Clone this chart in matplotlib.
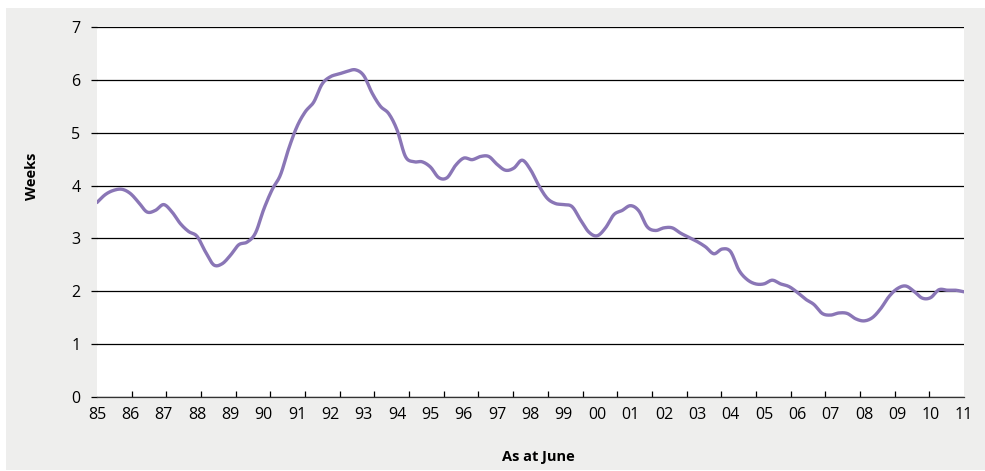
import numpy as np
import matplotlib.pyplot as plt
from matplotlib.patches import Rectangle

# Quarterly readings, 1985 to 2011
quarters = np.arange(1985.0, 2011.01, 0.25)
weeks = [
    3.68, 3.83, 3.91, 3.93, 3.85, 3.68, 3.50, 3.53,   # 85-86
    3.64, 3.50, 3.28, 3.13, 3.04, 2.75, 2.50, 2.52,   # 87-88
    2.68, 2.88, 2.93, 3.10, 3.55, 3.92, 4.20, 4.70,   # 89-90
    5.12, 5.40, 5.58, 5.92, 6.06, 6.11, 6.16, 6.19,   # 91-92
    6.08, 5.75, 5.50, 5.36, 5.05, 4.55, 4.45, 4.45,   # 93-94
    4.35, 4.15, 4.15, 4.38, 4.52, 4.49, 4.55, 4.55,   # 95-96
    4.40, 4.29, 4.33, 4.48, 4.30, 4.00, 3.76, 3.66,   # 97-98
    3.64, 3.60, 3.35, 3.12, 3.05, 3.20, 3.45, 3.53,   # 99-00
    3.62, 3.52, 3.22, 3.15, 3.20, 3.20, 3.10, 3.02,   # 01-02
    2.94, 2.84, 2.71, 2.80, 2.75, 2.40, 2.22, 2.14,   # 03-04
    2.14, 2.21, 2.14, 2.09, 1.98, 1.85, 1.75, 1.58,   # 05-06
    1.55, 1.59, 1.58, 1.48, 1.44, 1.50, 1.67, 1.90,   # 07-08
    2.05, 2.10, 2.00, 1.87, 1.88, 2.03, 2.02, 2.02,   # 09-10
    1.99,                                             # 11
]
year_labels = ["85", "86", "87", "88", "89", "90", "91", "92", "93", "94",
               "95", "96", "97", "98", "99", "00", "01", "02", "03", "04",
               "05", "06", "07", "08", "09", "10", "11"]

LINE = "#8a76b6"
PANEL = "#eeeeed"


def smooth(x, y, n=12):
    # Catmull-Rom pass through every point, like a spreadsheet "smoothed line"
    x = np.asarray(x, float)
    y = np.asarray(y, float)
    px = np.concatenate([[2 * x[0] - x[1]], x, [2 * x[-1] - x[-2]]])
    py = np.concatenate([[2 * y[0] - y[1]], y, [2 * y[-1] - y[-2]]])
    t = np.linspace(0, 1, n, endpoint=False)
    xs, ys = [], []
    for i in range(1, len(px) - 2):
        for p, out in ((px, xs), (py, ys)):
            p0, p1, p2, p3 = p[i - 1], p[i], p[i + 1], p[i + 2]
            out.append(0.5 * ((2 * p1) + (-p0 + p2) * t
                              + (2 * p0 - 5 * p1 + 4 * p2 - p3) * t ** 2
                              + (-p0 + 3 * p1 - 3 * p2 + p3) * t ** 3))
    xs.append([x[-1]])
    ys.append([y[-1]])
    return np.concatenate(xs), np.concatenate(ys)


plt.rcParams["font.family"] = ["Open Sans", "DejaVu Sans"]

fig = plt.figure(figsize=(9.85, 4.71), dpi=100)
W, H = 985, 471
fig.patches.append(Rectangle((6 / W, 1 / H), 979 / W, 462 / H,
                             transform=fig.transFigure, facecolor=PANEL,
                             edgecolor="none", zorder=-1))

ax = fig.add_axes([97 / W, 1 - 397 / H, 867 / W, 370 / H])
ax.set_facecolor("white")

sx, sy = smooth(quarters, weeks)
ax.plot(sx, sy, color=LINE, lw=2.4, solid_capstyle="round", zorder=3)

ax.set_xlim(1985, 2011)
ax.set_ylim(0, 7)
ax.set_yticks(range(8))
ax.yaxis.grid(True, color="black", lw=0.9)
ax.set_axisbelow(True)

# year labels sit on whole years; the tick marks are spaced slightly wider
ax.set_xticks(np.arange(1985, 2012), labels=year_labels)
ax.set_xticks(1985 + np.arange(26) * 26 / 25, minor=True)
ax.tick_params(axis="x", which="major", length=0, pad=7, labelsize=11.5)
ax.tick_params(axis="x", which="minor", length=4, direction="in", width=0.9)
ax.tick_params(axis="y", length=4, width=0.9, pad=8, labelsize=11.5)

for side in ("left", "right", "top"):
    ax.spines[side].set_visible(False)
ax.spines["bottom"].set_color("#333333")
ax.spines["bottom"].set_linewidth(0.9)

fig.text(32 / W, 1 - 176 / H, "Weeks", rotation=90, fontsize=10.5,
         fontweight="bold", ha="center", va="center")
fig.text(538 / W, 1 - 457 / H, "As at June", fontsize=10.5,
         fontweight="bold", ha="center", va="center")

fig.savefig("out.png", dpi=100, facecolor="white")
